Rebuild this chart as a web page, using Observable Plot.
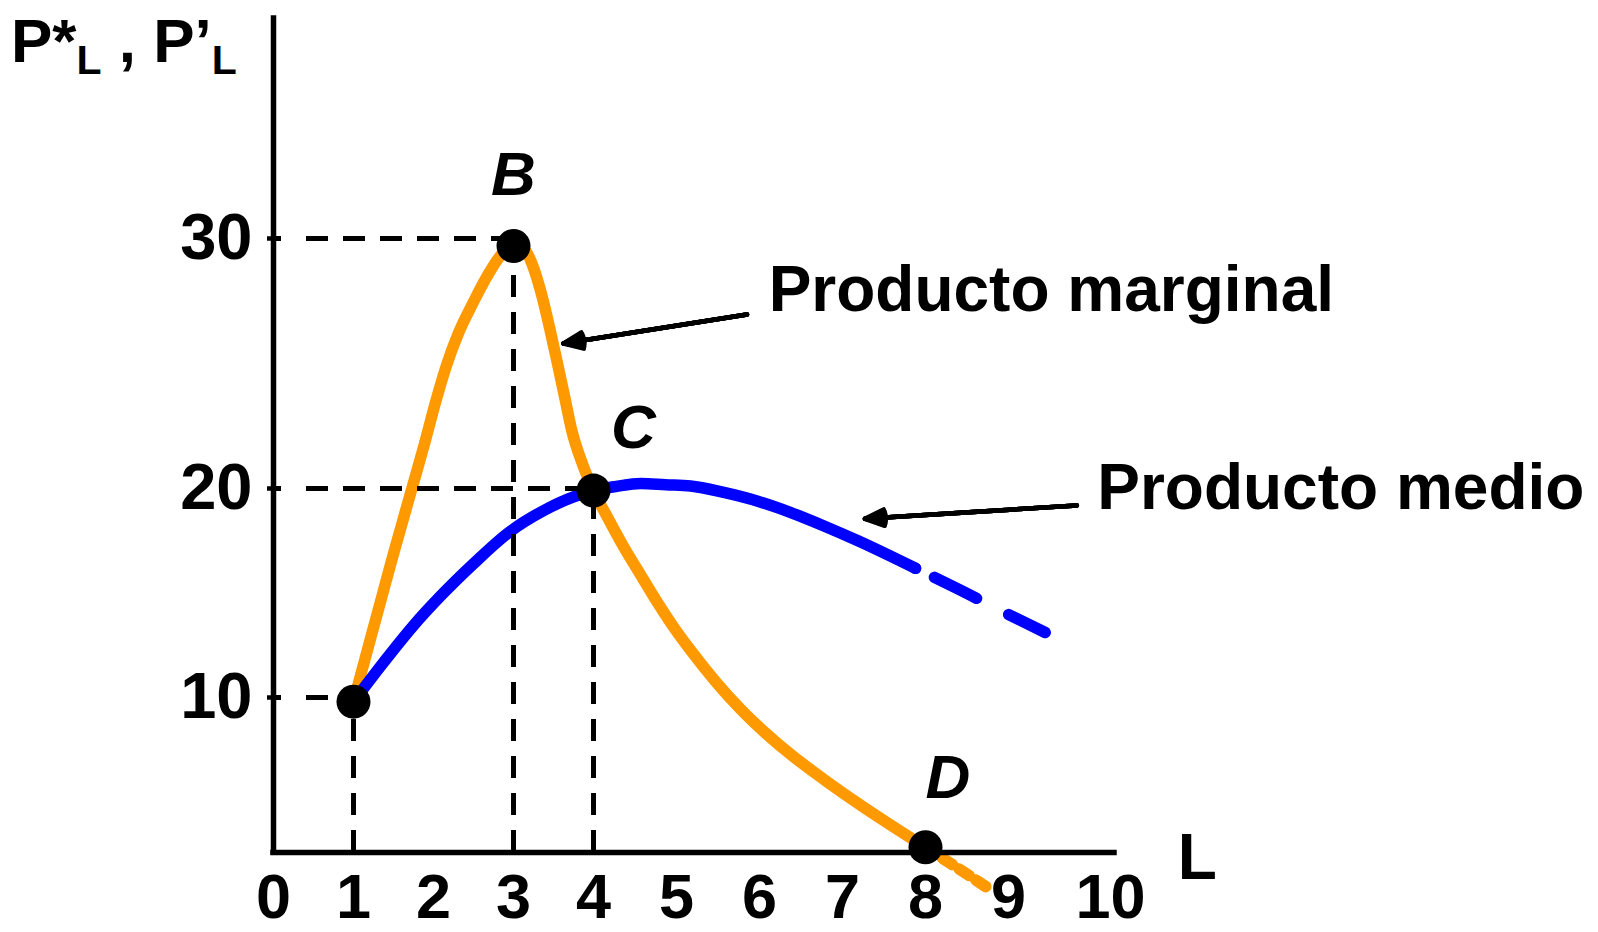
<!DOCTYPE html>
<html>
<head>
<meta charset="utf-8">
<script src="https://cdn.jsdelivr.net/npm/d3@7"></script>
<script src="https://cdn.jsdelivr.net/npm/@observablehq/plot@0.6"></script>
<style>
  html, body { margin: 0; padding: 0; background: #ffffff; overflow: hidden; }
  #chart svg { display: block; }
</style>
</head>
<body>
<div id="chart"></div>
<script>
// ---- Data ----
const xTicks = [0, 1, 2, 3, 4, 5, 6, 7, 8, 9, 10];
const yTicks = [10, 20, 30];

// Marginal product (orange), solid part
const orangeL = [1, 1.24, 1.48, 1.73, 1.88, 2.03, 2.16, 2.31, 2.49, 2.69, 2.86, 3.0, 3.14, 3.23, 3.36, 3.46, 3.55, 3.64, 3.73, 3.86, 4.0, 4.17, 4.36, 4.57, 4.77, 4.96, 5.17, 5.47, 5.77, 6.07, 6.37, 6.77, 7.18, 8.0];
const orangeV = [9.8, 13.2, 16.6, 20.0, 21.7, 23.5, 24.9, 26.2, 27.4, 28.6, 29.4, 29.7, 29.55, 29.0, 27.65, 26.3, 25.0, 23.65, 22.3, 21.0, 19.9, 18.61, 17.23, 15.85, 14.55, 13.4, 12.26, 10.77, 9.45, 8.3, 7.28, 6.08, 4.93, 2.8];
// Marginal product, dotted continuation past D
const orangeTailL = [8.0, 8.37, 8.73];
const orangeTailV = [2.8, 1.85, 0.9];

// Average product (blue), solid part
const blueL = [1, 1.38, 1.74, 2.1, 2.5, 2.96, 3.38, 3.75, 4.0, 4.27, 4.57, 4.87, 5.17, 5.57, 5.98, 6.37, 6.77, 7.18, 7.88];
const blueV = [9.8, 11.7, 13.4, 14.9, 16.4, 17.95, 18.95, 19.6, 19.9, 20.08, 20.2, 20.15, 20.1, 19.81, 19.39, 18.86, 18.22, 17.51, 16.18];
// Average product, dashed continuation
const blueDashL = [7.88, 8.36, 9.0, 9.36];
const blueDashV = [16.18, 15.26, 13.97, 13.11];

// Key points
const pointL = [1, 3, 4, 8];
const pointV = [9.8, 29.7, 19.9, 2.8];

// Point letters and their anchor (data units)
const letterText = ["B", "C", "D"];
const letterL = [3.0, 4.48, 8.27];
const letterV = [33.5, 23.4, 7.3];

// Curve names and axis name
const noteText = ["Producto marginal", "Producto medio", "L"];
const noteL = [6.11, 9.87, 10.66];
const noteV = [28.9, 21.0, 3.46];

// Arrows from names to curves
const arrowFromL = [5.85, 9.67];
const arrowFromV = [26.96, 19.19];
const arrowToL = [3.625, 7.27];
const arrowToV = [25.8, 18.55];

// Guide lines: horizontal (tick value, to L) and vertical (L, up to value)
const hGuideV = [30, 20, 10];
const hGuideL = [3, 4, 1];
const vGuideL = [1, 3, 4];
const vGuideV = [9.8, 29.7, 19.9];

// ---- Build tables ----
const zip = (a, b) => a.map((L, i) => ({L, v: b[i]}));
const orange = zip(orangeL, orangeV);
const orangeTail = zip(orangeTailL, orangeTailV);
const blue = zip(blueL, blueV);
const blueDash = zip(blueDashL, blueDashV);
const points = zip(pointL, pointV);
const letters = letterText.map((t, i) => ({t, L: letterL[i], v: letterV[i]}));
const notes = noteText.map((t, i) => ({t, L: noteL[i], v: noteV[i]}));
const arrows = arrowFromL.map((d, i) => ({L1: d, v1: arrowFromV[i], L2: arrowToL[i], v2: arrowToV[i]}));
const hGuides = hGuideV.map((v, i) => ({v, L: hGuideL[i]}));
const vGuides = vGuideL.map((L, i) => ({L, v: vGuideV[i]}));

// ---- Scales (piecewise, as drawn in the reference) ----
const xDomain = [0, 4, 8, 9, 10];
const xRange = [273, 593, 925, 1008, 1110];
const yDomain = [2.55, 10, 20, 30, 38.8];
const yRange = [852, 697, 488, 238, 18];

const ORANGE = "#ff9900";
const BLUE = "#0000ff";
const FONT = "'Liberation Sans', Arial, Helvetica, sans-serif";
const hDash = "8,25," + Array(10).fill("22,15").join(",");

// filled-looking arrowheads: several heads with decreasing angle
const arrowHeads = [46, 34, 22, 10, 1].map(a =>
  Plot.arrow(arrows, {x1: "L1", y1: "v1", x2: "L2", y2: "v2", stroke: "#000", strokeWidth: 4.5, headLength: 7, headAngle: a})
);

const chart = Plot.plot({
  width: 1598,
  height: 932,
  marginLeft: 273,
  marginRight: 484,
  marginTop: 18,
  marginBottom: 80,
  style: {fontFamily: FONT, background: "#ffffff", color: "#000000", overflow: "visible"},
  x: {type: "linear", domain: xDomain, range: xRange, axis: null},
  y: {type: "linear", domain: yDomain, range: yRange, axis: null},
  marks: [
    // curves
    Plot.line(orange, {x: "L", y: "v", stroke: ORANGE, strokeWidth: 11.5, curve: "monotone-x"}),
    Plot.line(orangeTail, {x: "L", y: "v", stroke: ORANGE, strokeWidth: 11.5, strokeDasharray: "12,8", curve: "monotone-x"}),
    Plot.line(blue, {x: "L", y: "v", stroke: BLUE, strokeWidth: 11.5, curve: "monotone-x"}),
    Plot.line(blueDash, {x: "L", y: "v", stroke: BLUE, strokeWidth: 11.5, strokeDasharray: "0,21,47,36,41,60", curve: "monotone-x"}),
    // dashed guides
    Plot.ruleY(hGuides, {y: "v", x1: xDomain[0], x2: "L", stroke: "#000", strokeWidth: 5, strokeDasharray: hDash}),
    Plot.ruleX(vGuides, {x: "L", y1: yDomain[0], y2: "v", stroke: "#000", strokeWidth: 5, strokeDasharray: "22,15"}),
    // axes lines
    Plot.ruleX([xDomain[0]], {stroke: "#000", strokeWidth: 5.5, strokeLinecap: "square"}),
    Plot.ruleY([yDomain[0]], {stroke: "#000", strokeWidth: 5.5, strokeLinecap: "square"}),
    // arrows
    ...arrowHeads,
    // points
    Plot.dot(points, {x: "L", y: "v", r: 17, fill: "#000"}),
    // letters
    Plot.text(letters, {x: "L", y: "v", text: "t", fontSize: 62, fontWeight: "bold", fontStyle: "italic", lineAnchor: "top", textAnchor: "middle", fill: "#000"}),
    // notes
    Plot.text(notes, {x: "L", y: "v", text: "t", fontSize: 64, fontWeight: "bold", lineAnchor: "top", textAnchor: "start", fill: "#000"}),
    // axes ticks and labels
    Plot.axisY(yTicks, {anchor: "left", tickSize: 6, tickPadding: 15, strokeWidth: 4.5, fontSize: 65, fontWeight: "bold", tickFormat: d => String(d)}),
    Plot.axisX(xTicks, {anchor: "bottom", tickSize: 0, tickPadding: 21, fontSize: 63, fontWeight: "bold", tickFormat: d => String(d)})
  ]
});

document.getElementById("chart").append(chart);

// Axis title with subscripts: P*L , P’L
const svg = d3.select(chart);
const title = svg.append("text")
  .attr("x", 11)
  .attr("y", 62)
  .attr("text-anchor", "start")
  .attr("font-family", FONT)
  .attr("font-weight", "bold")
  .attr("font-size", 62)
  .attr("fill", "#000");
title.append("tspan").text("P*");
title.append("tspan").attr("font-size", 41).attr("dy", 12).text("L");
title.append("tspan").attr("dy", -12).attr("font-size", 62).text(" , P’");
title.append("tspan").attr("font-size", 41).attr("dy", 12).text("L");
</script>
</body>
</html>
